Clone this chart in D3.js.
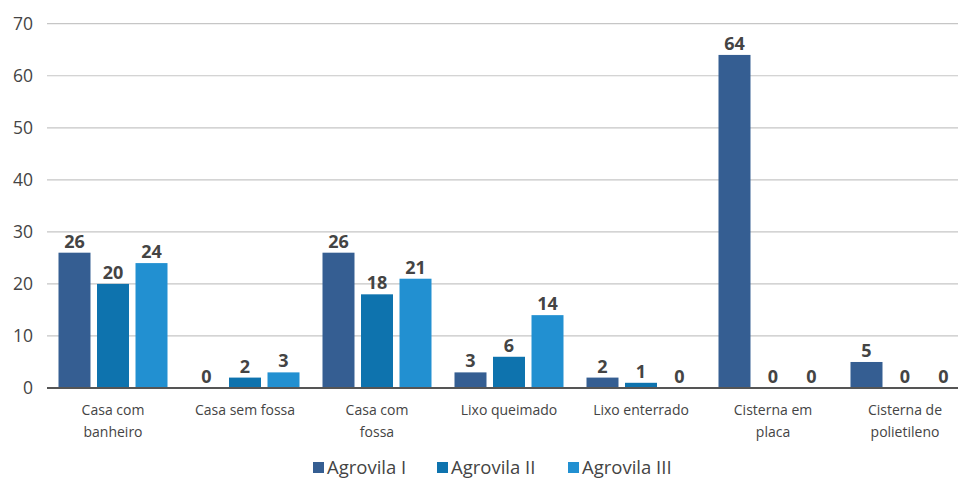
<!DOCTYPE html>
<html><head><meta charset="utf-8">
<script src="https://cdn.jsdelivr.net/npm/d3@7"></script>
<style>body{margin:0;background:#fff}svg{display:block}</style>
</head><body><svg id="c" width="960" height="482"></svg>
<script>
const categories = ["Casa com\nbanheiro","Casa sem fossa","Casa com\nfossa","Lixo queimado","Lixo enterrado","Cisterna em\nplaca","Cisterna de\npolietileno"];
const seriesNames = ["Agrovila I","Agrovila II","Agrovila III"];
const agrovilaI   = [26, 0, 26, 3, 2, 64, 5];
const agrovilaII  = [20, 2, 18, 6, 1, 0, 0];
const agrovilaIII = [24, 3, 21, 14, 0, 0, 0];
const yTicks = [0,10,20,30,40,50,60,70];
const colors = ["#355e92","#0e73ae","#2290d1"];

const series = [agrovilaI, agrovilaII, agrovilaIII];
const svg = d3.select("#c");
const font = "'Open Sans', 'Noto Sans', sans-serif";

const y = d3.scaleLinear().domain([0,70]).range([388,23.7]);
const x = d3.scaleBand().domain(categories).range([47,971]);
const xi = d3.scaleBand().domain(d3.range(3)).range([x.bandwidth()/2-54.5, x.bandwidth()/2+54.5]).paddingInner(0.169);

// grid
svg.append("g").selectAll("line").data(yTicks.filter(d=>d>0)).join("line")
  .attr("x1",47).attr("x2",958).attr("y1",d=>y(d)).attr("y2",d=>y(d))
  .attr("stroke","#c6c6c6").attr("stroke-width",1.2);

// y axis labels
const yAxis = d3.axisLeft(y).tickValues(yTicks).tickSize(0).tickPadding(0);
const ya = svg.append("g").attr("transform","translate(33,0)").call(yAxis);
ya.select(".domain").remove();
ya.selectAll("text").attr("font-family",font).attr("font-size",17.5).attr("fill","#444");

// bars
const groups = svg.append("g").selectAll("g").data(categories).join("g")
  .attr("transform",d=>`translate(${x(d)},0)`);
groups.each(function(cat,ci){
  const g = d3.select(this);
  series.forEach((s,si)=>{
    const v = s[ci];
    if (v>0) {
      g.append("rect").attr("x",xi(si)).attr("width",xi.bandwidth())
        .attr("y",y(v)).attr("height",y(0)-y(v)).attr("fill",colors[si]);
    }
    g.append("text").attr("x",xi(si)+xi.bandwidth()/2).attr("y",y(v)-5)
      .attr("text-anchor","middle").attr("font-family",font).attr("font-weight","bold")
      .attr("font-size",18).attr("fill","#444").text(v);
  });
  const lines = cat.split("\n");
  const t = g.append("text").attr("text-anchor","middle").attr("font-family",font)
    .attr("font-size",14).attr("fill","#444");
  lines.forEach((ln,li)=>{
    t.append("tspan").attr("x",x.bandwidth()/2).attr("y",415+li*22).text(ln);
  });
});

// baseline
svg.append("line").attr("x1",47).attr("x2",958).attr("y1",y(0)).attr("y2",y(0))
  .attr("stroke","#555").attr("stroke-width",1.8);

// legend
const legX = [313,437,568];
const lg = svg.append("g").selectAll("g").data(seriesNames).join("g")
  .attr("transform",(d,i)=>`translate(${legX[i]},0)`);
lg.append("rect").attr("x",0).attr("y",462).attr("width",11).attr("height",11).attr("fill",(d,i)=>colors[i]);
lg.append("text").attr("x",14).attr("y",474).attr("font-family",font).attr("font-size",18.5)
  .attr("fill","#444").text(d=>d);
</script></body></html>
